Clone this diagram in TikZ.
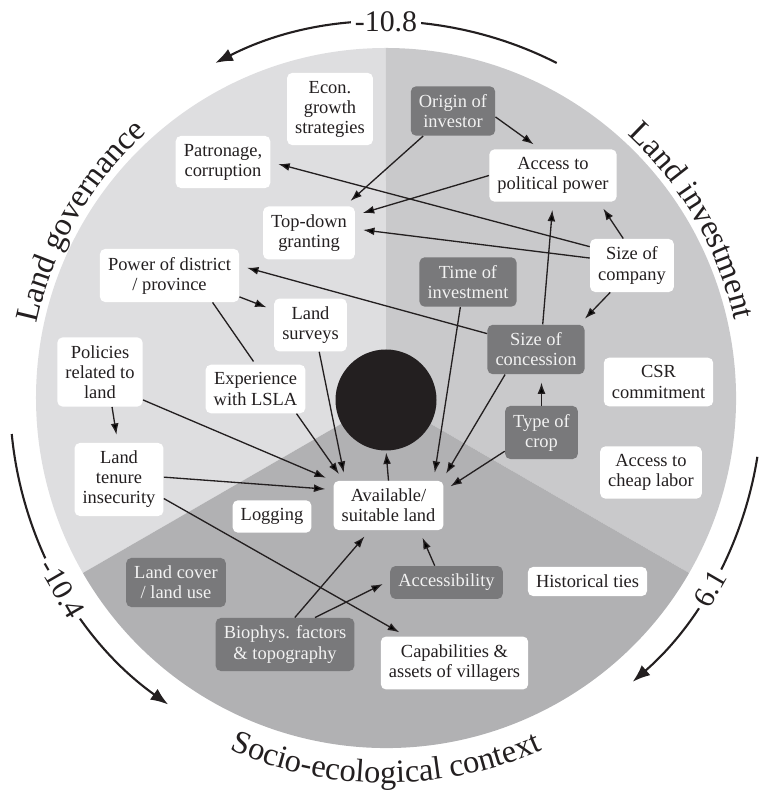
\documentclass[tikz,border=0pt]{standalone}
\usepackage{fontspec}
\setmainfont{Liberation Serif}
\usetikzlibrary{arrows.meta,decorations.text}
\definecolor{govgray}{RGB}{222,222,224}
\definecolor{invgray}{RGB}{201,201,203}
\definecolor{socgray}{RGB}{177,177,179}
\definecolor{boxgray}{RGB}{121,121,123}
\definecolor{ink}{RGB}{35,31,32}
\newcommand{\boxfont}{\fontsize{10.5}{11.4}\selectfont}
\newcommand{\bigfont}{\fontsize{18.5}{20}\selectfont}
\newcommand{\numfont}{\fontsize{17}{20}\selectfont}
\begin{document}
\begin{tikzpicture}[x=0.2cm,y=0.2cm,
    wbox/.style={fill=white,rounded corners=3pt,align=center,inner sep=4.6pt,font=\boxfont,text=ink},
    dbox/.style={wbox,fill=boxgray,text=white!95!black},
    arr/.style={draw=ink,line width=0.75pt,-{Latex[length=6.5pt,width=4.5pt]},shorten >=4.5pt},
    bigarr/.style={draw=ink,line width=1.2pt,-{Latex[length=10pt,width=7.5pt]}},
    num/.style={fill=white,font=\numfont,text=ink,inner sep=2pt}]
\useasboundingbox (-38.6,-39.3) rectangle (37.5,39.8);
\fill[govgray] (0,0) -- (90:35) arc[start angle=90,end angle=210,radius=7cm] -- cycle;
\fill[invgray] (0,0) -- (-30:35) arc[start angle=-30,end angle=90,radius=7cm] -- cycle;
\fill[socgray] (0,0) -- (210:35) arc[start angle=210,end angle=330,radius=7cm] -- cycle;
\node[circle,fill=ink,minimum size=2.02cm,inner sep=0pt] (core) at (0,-0.2) {};

\draw[bigarr] (63:37.6) arc[start angle=63,end angle=117,radius=7.52cm];
\draw[bigarr] (185.5:37.6) arc[start angle=185.5,end angle=234.6,radius=7.52cm];
\draw[bigarr] (-9:37.6) arc[start angle=-9,end angle=-49,radius=7.52cm];
\node[num] (ntop) at (90:37.6) {-10.8};
\node[num,rotate=-60] (nleft) at (210.5:37.6) {-10.4};
\node[num,rotate=60] (nright) at (-30.5:37.6) {6.1};

\path[decorate,decoration={text along path,text={|\bigfont|Land governance},text align=center,text color=ink}]
    (178:35.7) arc[start angle=178,end angle=122,radius=7.14cm];
\path[decorate,decoration={text along path,text={|\bigfont|Land investment},text align=center,text color=ink}]
    (58:35.7) arc[start angle=58,end angle=2,radius=7.14cm];
\path[decorate,decoration={text along path,text={|\bigfont|Socio-ecological context},text align=center,text color=ink}]
    (236:38.5) arc[start angle=236,end angle=304,radius=7.7cm];

\node[wbox] (econ) at (-5.6,28.9) {Econ.\\growth\\strategies};
\node[wbox] (patr) at (-16.3,23.6) {Patronage,\\corruption};
\node[wbox] (topd) at (-7.7,16.5) {Top-down\\granting};
\node[wbox] (power) at (-21.65,12.25) {Power of district\\/ province};
\node[wbox] (surv) at (-7.55,7.3) {Land\\surveys};
\node[wbox] (pol) at (-28.6,2.6) {Policies\\related to\\land};
\node[wbox] (exp) at (-13.05,0.9) {Experience\\with LSLA};
\node[dbox] (orig) at (6.7,28.7) {Origin of\\investor};
\node[wbox] (acc) at (16.7,22.25) {Access to\\political power};
\node[wbox] (comp) at (24.6,13.25) {Size of\\company};
\node[dbox] (time) at (8.2,11.6) {Time of\\investment};
\node[dbox] (conc) at (15.0,4.85) {Size of\\concession};
\node[wbox] (csr) at (27.25,1.6) {CSR\\commitment};
\node[wbox] (ten) at (-26.7,-8.15) {Land\\tenure\\insecurity};
\node[wbox] (log) at (-11.4,-11.85) {Logging};
\node[wbox] (avail) at (0.25,-10.75) {Available/\\suitable land};
\node[dbox] (cover) at (-21.0,-18.45) {Land cover\\/ land use};
\node[dbox] (bio) at (-10.1,-24.65) {Biophys. factors\\\& topography};
\node[dbox] (crop) at (15.55,-3.45) {Type of\\crop};
\node[wbox] (labor) at (26.5,-7.45) {Access to\\cheap labor};
\node[dbox] (accb) at (6.05,-18.45) {Accessibility};
\node[wbox] (hist) at (20.15,-18.35) {Historical ties};
\node[wbox] (cap) at (6.85,-26.5) {Capabilities \&\\assets of villagers};

\draw[arr] (orig.-8) -- (acc.116);
\draw[arr] (orig.220) -- (topd.37);
\draw[arr] (comp.156) -- (patr.east);
\draw[arr] (acc.west) -- (topd.21);
\draw[arr] (comp.170) -- (topd.5);
\draw[arr] (comp.108) -- (acc.-30);
\draw[arr] (comp.231) -- (conc.30);
\draw[arr] (conc.162) -- (power.8);
\draw[arr] (conc.75) -- (acc.south);
\draw[arr] (crop.north) -- (crop.north |- conc.south);
\draw[arr] (crop.207) -- (avail.15);
\draw[arr] (conc.219) -- (avail.25);
\draw[arr] (time.253) -- (avail.29);
\draw[arr,shorten >=1pt] (avail.north) -- (core.south);
\draw[arr] (surv.-72) -- (avail.150);
\draw[arr] (exp.-31) -- (avail.151);
\draw[draw=ink,line width=0.75pt,shorten >=2pt] (power.-32) -- (exp.north);
\draw[arr] (power.-17) -- (surv.158);
\draw[arr] (pol.-71) -- (ten.92);
\draw[arr] (pol.-33) -- (avail.156);
\draw[arr] (ten.3) -- (avail.164);
\draw[arr] (ten.-23) -- (cap.151);
\draw[arr] (bio.70) -- (avail.233);
\draw[arr] (bio.42) -- (accb.178);
\draw[arr] (accb.125) -- (avail.-39);
\end{tikzpicture}
\end{document}
